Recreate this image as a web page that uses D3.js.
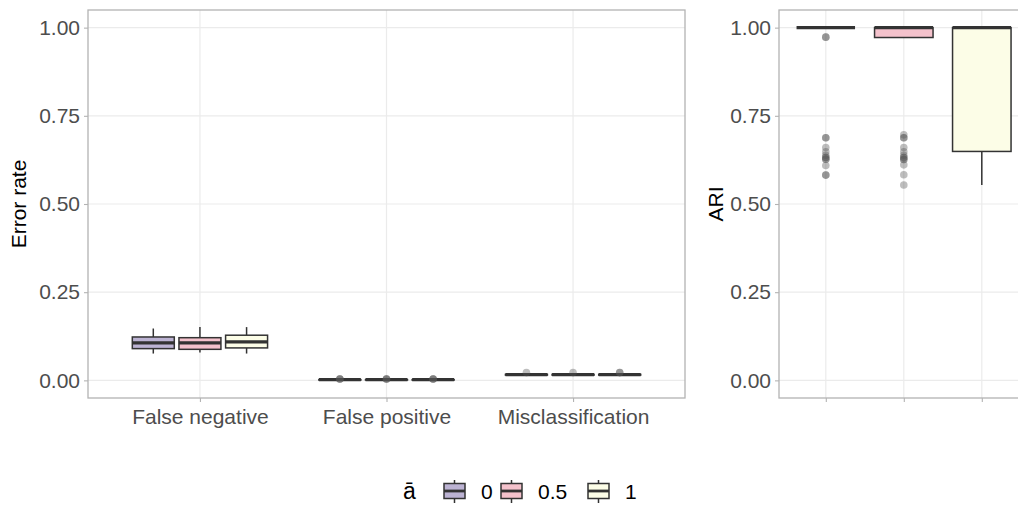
<!DOCTYPE html>
<html>
<head>
<meta charset="utf-8">
<script src="https://cdn.jsdelivr.net/npm/d3@7"></script>
<style>
  html, body { margin: 0; padding: 0; background: #ffffff; }
  svg { display: block; font-family: "Liberation Sans", Arial, sans-serif; }
</style>
</head>
<body>
<svg id="chart" width="1018" height="506"></svg>
<script>
// Error types on the left panel, levels of a-bar shared by both panels
const categories = ["False negative", "False positive", "Misclassification"];
const aLevels = ["0", "0.5", "1"];
const fillColors = ["#bcb3d3", "#f4c2cc", "#fcfde7"];
const yTicks = [0, 0.25, 0.5, 0.75, 1];
const yTickLabels = ["0.00", "0.25", "0.50", "0.75", "1.00"];

// Box summaries [lower whisker, Q1, median, Q3, upper whisker], one row per a-bar level
const falseNegStats = [
  [0.076, 0.090, 0.106, 0.123, 0.147],
  [0.079, 0.088, 0.106, 0.121, 0.151],
  [0.076, 0.092, 0.109, 0.128, 0.151]
];
const falsePosStats = [
  [0.000, 0.001, 0.002, 0.002, 0.003],
  [0.000, 0.001, 0.002, 0.002, 0.003],
  [0.000, 0.001, 0.002, 0.002, 0.003]
];
const misclassStats = [
  [0.013, 0.015, 0.016, 0.017, 0.019],
  [0.013, 0.015, 0.016, 0.017, 0.019],
  [0.013, 0.015, 0.016, 0.017, 0.019]
];
// Outlying error rates
const falseNegOutliers = [[], [], []];
const falsePosOutliers = [[0.004, 0.004, 0.004], [0.004, 0.004, 0.004], [0.004, 0.004, 0.004]];
const misclassOutliers = [[0.022], [0.022], [0.022, 0.022]];

// Adjusted Rand index per a-bar level
const ariStats = [
  [1.000, 1.000, 1.000, 1.000, 1.000],
  [0.972, 0.972, 1.000, 1.000, 1.000],
  [0.554, 0.649, 1.000, 1.000, 1.000]
];
const ariOutliers = [
  [0.973, 0.973, 0.688, 0.688, 0.660, 0.648, 0.638, 0.632, 0.632, 0.627, 0.627, 0.609, 0.582, 0.582],
  [0.696, 0.688, 0.688, 0.660, 0.648, 0.638, 0.632, 0.632, 0.626, 0.626, 0.611, 0.583, 0.554],
  []
];

const svg = d3.select("#chart");
const FONT = 21;
const boxStroke = "#333333";

const leftPanel = { x0: 88, x1: 685, y0: 10, y1: 398 };
const rightPanel = { x0: 779, x1: 1028.6, y0: 10, y1: 398 };

const yScale = d3.scaleLinear().domain([-0.05, 1.05]).range([leftPanel.y1, leftPanel.y0]);

const xLeft = d3.scalePoint().domain(categories).range([leftPanel.x0, leftPanel.x1]).padding(0.6);
const stepL = xLeft.step();
const dodge = d3.scaleBand().domain(aLevels).range([-0.375 * stepL, 0.375 * stepL]);

const xRight = d3.scalePoint().domain(aLevels).range([rightPanel.x0, rightPanel.x1]).padding(0.6);
const stepR = xRight.step();

function panelBackground(p, xs, xDomain) {
  const g = svg.append("g");
  g.selectAll("line.hgrid").data(yTicks).join("line")
    .attr("x1", p.x0).attr("x2", p.x1)
    .attr("y1", d => yScale(d)).attr("y2", d => yScale(d))
    .attr("stroke", "#ebebeb").attr("stroke-width", 1.2);
  g.selectAll("line.vgrid").data(xDomain).join("line")
    .attr("x1", d => xs(d)).attr("x2", d => xs(d))
    .attr("y1", p.y0).attr("y2", p.y1)
    .attr("stroke", "#ebebeb").attr("stroke-width", 1.2);
  return g;
}

function panelFrame(p, xs, xDomain, showXLabels) {
  const g = svg.append("g");
  g.append("rect")
    .attr("x", p.x0).attr("y", p.y0)
    .attr("width", p.x1 - p.x0).attr("height", p.y1 - p.y0)
    .attr("fill", "none").attr("stroke", "#b3b3b3").attr("stroke-width", 1.3);

  const yAxis = d3.axisLeft(yScale).tickValues(yTicks)
    .tickFormat((d, i) => yTickLabels[i]).tickSize(4).tickPadding(4);
  const ya = g.append("g").attr("transform", `translate(${p.x0},0)`).call(yAxis);
  ya.select(".domain").remove();
  ya.selectAll(".tick line").attr("stroke", "#b3b3b3").attr("stroke-width", 1.1);
  ya.selectAll(".tick text").attr("fill", "#4d4d4d")
    .style("font-size", FONT + "px").style("font-family", "Liberation Sans, Arial, sans-serif");

  const xAxis = d3.axisBottom(xs).tickSize(4).tickPadding(7)
    .tickFormat(d => showXLabels ? d : "");
  const xa = g.append("g").attr("transform", `translate(0,${p.y1})`).call(xAxis);
  xa.select(".domain").remove();
  xa.selectAll(".tick line").attr("stroke", "#b3b3b3").attr("stroke-width", 1.1);
  xa.selectAll(".tick text").attr("fill", "#4d4d4d")
    .style("font-size", FONT + "px").style("font-family", "Liberation Sans, Arial, sans-serif");
}

function drawBox(g, cx, width, s, fill, outliers) {
  const [lo, q1, med, q3, hi] = s;
  // whiskers
  g.append("line").attr("x1", cx).attr("x2", cx)
    .attr("y1", yScale(q3)).attr("y2", yScale(hi))
    .attr("stroke", boxStroke).attr("stroke-width", 1.5);
  g.append("line").attr("x1", cx).attr("x2", cx)
    .attr("y1", yScale(q1)).attr("y2", yScale(lo))
    .attr("stroke", boxStroke).attr("stroke-width", 1.5);
  // box
  g.append("rect")
    .attr("x", cx - width / 2).attr("y", yScale(q3))
    .attr("width", width).attr("height", Math.max(0, yScale(q1) - yScale(q3)))
    .attr("fill", fill).attr("stroke", boxStroke).attr("stroke-width", 1.5);
  // median
  g.append("line").attr("x1", cx - width / 2).attr("x2", cx + width / 2)
    .attr("y1", yScale(med)).attr("y2", yScale(med))
    .attr("stroke", boxStroke).attr("stroke-width", 3.2);
  // outliers
  g.selectAll(null).data(outliers).join("circle")
    .attr("cx", cx).attr("cy", d => yScale(d)).attr("r", 3.8)
    .attr("fill", "#555555").attr("fill-opacity", 0.38);
}

// ---- left panel: error rates ----
panelBackground(leftPanel, xLeft, categories);
const gLeft = svg.append("g");
const leftStats = [falseNegStats, falsePosStats, misclassStats];
const leftOut = [falseNegOutliers, falsePosOutliers, misclassOutliers];
const subWidth = dodge.bandwidth() * 0.9;
categories.forEach((c, ci) => {
  aLevels.forEach((a, ai) => {
    const cx = xLeft(c) + dodge(a) + dodge.bandwidth() / 2;
    drawBox(gLeft, cx, subWidth, leftStats[ci][ai], fillColors[ai], leftOut[ci][ai]);
  });
});
panelFrame(leftPanel, xLeft, categories, true);

// ---- right panel: ARI ----
panelBackground(rightPanel, xRight, aLevels);
const gRight = svg.append("g");
aLevels.forEach((a, ai) => {
  drawBox(gRight, xRight(a), 0.75 * stepR, ariStats[ai], fillColors[ai], ariOutliers[ai]);
});
panelFrame(rightPanel, xRight, aLevels, false);

// axis titles
svg.append("text")
  .attr("transform", `translate(26,${(leftPanel.y0 + leftPanel.y1) / 2}) rotate(-90)`)
  .attr("text-anchor", "middle").attr("fill", "#000").style("font-size", FONT + "px")
  .text("Error rate");
svg.append("text")
  .attr("transform", `translate(723,${(rightPanel.y0 + rightPanel.y1) / 2}) rotate(-90)`)
  .attr("text-anchor", "middle").attr("fill", "#000").style("font-size", FONT + "px")
  .text("ARI");

// ---- legend ----
const legend = svg.append("g").attr("transform", "translate(0,491)");
legend.append("text").attr("x", 403).attr("y", 7.5).attr("fill", "#000")
  .style("font-size", "23px").text("ā");
const keyX = [444, 501, 588];
aLevels.forEach((a, i) => {
  const k = legend.append("g").attr("transform", `translate(${keyX[i]},0)`);
  k.append("line").attr("x1", 10.5).attr("x2", 10.5).attr("y1", -11).attr("y2", 12)
    .attr("stroke", boxStroke).attr("stroke-width", 1.5);
  k.append("rect").attr("x", 0).attr("y", -7.5).attr("width", 21).attr("height", 15)
    .attr("fill", fillColors[i]).attr("stroke", boxStroke).attr("stroke-width", 1.5);
  k.append("line").attr("x1", 0).attr("x2", 21).attr("y1", 0).attr("y2", 0)
    .attr("stroke", boxStroke).attr("stroke-width", 2.8);
  k.append("text").attr("x", 37).attr("y", 7.5).attr("fill", "#000")
    .style("font-size", FONT + "px").text(a);
});
</script>
</body>
</html>
